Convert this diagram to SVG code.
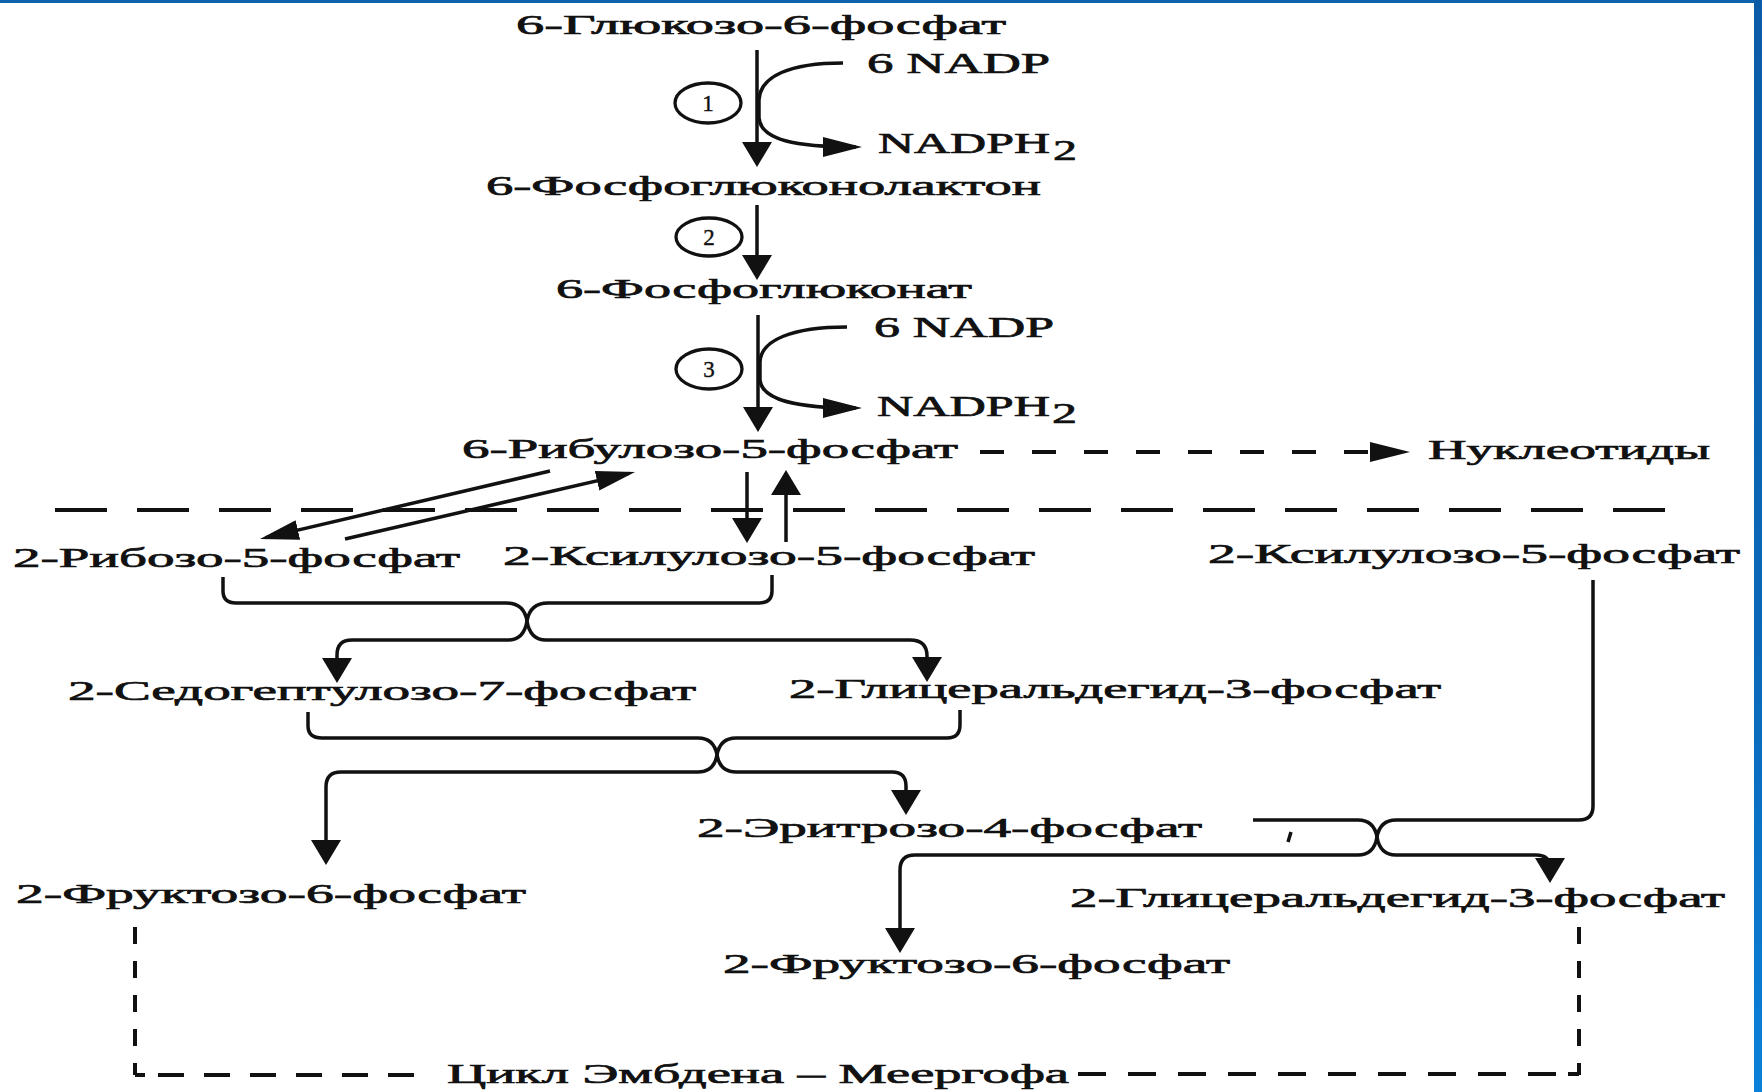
<svg xmlns="http://www.w3.org/2000/svg" width="1762" height="1092" viewBox="0 0 1762 1092">
<style>
.t{font-family:"Liberation Serif","Times New Roman",serif;font-size:28px;fill:#111;stroke:#111;stroke-width:0.7;}
.n{font-family:"Liberation Serif","Times New Roman",serif;font-size:30px;fill:#111;stroke:#111;stroke-width:0.7;}
.s{font-family:"Liberation Serif","Times New Roman",serif;font-size:23px;fill:#111;stroke:#111;stroke-width:0.4;}
.c{fill:none;stroke:#111;stroke-width:3.5;stroke-linecap:butt;stroke-linejoin:round;}
.d{fill:none;stroke:#111;stroke-width:4;}
.e{fill:none;stroke:#111;stroke-width:3.3;}
.h{fill:#111;stroke:none;}
</style>
<defs>
<linearGradient id="band" x1="0" y1="0" x2="0" y2="1">
<stop offset="0" stop-color="#0b5ca6"/>
<stop offset="0.6" stop-color="#0b68b8"/>
<stop offset="1" stop-color="#0a80d8"/>
</linearGradient>
<marker id="aV" markerUnits="userSpaceOnUse" markerWidth="25" markerHeight="30" viewBox="0 0 25 30" refX="19" refY="15" orient="auto">
<path d="M0,0 L25,15 L0,30 z" fill="#111" stroke="none"/>
</marker>
<marker id="aH" markerUnits="userSpaceOnUse" markerWidth="39" markerHeight="20" viewBox="0 0 39 20" refX="33" refY="10" orient="auto">
<path d="M0,0 L39,10 L0,20 z" fill="#111" stroke="none"/>
</marker>
</defs>
<rect x="0" y="0" width="1762" height="1092" fill="#ffffff"/>
<rect x="0" y="0" width="1762" height="3" fill="#0d62ad"/>
<rect x="1754" y="0" width="8" height="1092" fill="url(#band)"/>

<g id="connectors">
<path class="c" d="M757,50 V161" marker-end="url(#aV)"/>
<path class="c" d="M843,63 C790,63 760,76 759,100 L759,118 C761,140 795,147 856,147" marker-end="url(#aH)"/>
<path class="c" d="M757,205 V274" marker-end="url(#aV)"/>
<path class="c" d="M758,315 V426" marker-end="url(#aV)"/>
<path class="c" d="M847,327 C792,327 761,340 760,362 L760,380 C762,400 795,408 856,408" marker-end="url(#aH)"/>
<path class="d" d="M980,452 H1368" stroke-dasharray="24 28"/>
<polygon class="h" points="1370,442 1410,452 1370,462"/>
<path class="d" d="M55,510 H1665" stroke-dasharray="52 30"/>
<path class="c" d="M550,471 L265.8,537.6" marker-end="url(#aH)"/>
<path class="c" d="M345,539 L629.2,473.4" marker-end="url(#aH)"/>
<path class="c" d="M747,472 V537" marker-end="url(#aV)"/>
<path class="c" d="M786,542 V476" marker-end="url(#aV)"/>
<path class="c" d="M223,577 V591 Q223,603 236,603 H506 Q524,603 527,621 Q530,640 546,640 H910 Q927,640 927,656 V676" marker-end="url(#aV)"/>
<path class="c" d="M772,575 V591 Q772,603 759,603 H548 Q530,603 527,621 Q524,640 508,640 H352 Q337,640 337,655 V677" marker-end="url(#aV)"/>
<path class="c" d="M308,712 V726 Q308,738 322,738 H698 Q714,738 717,755 Q720,772 736,772 H892 Q906,772 906,786 V809" marker-end="url(#aV)"/>
<path class="c" d="M960,710 V725 Q960,738 947,738 H736 Q720,738 717,755 Q714,772 698,772 H341 Q326,772 326,787 V859" marker-end="url(#aV)"/>
<path class="c" d="M1593,580 V806 Q1593,820 1579,820 H1396 Q1380,820 1377,837 Q1374,855 1358,855 H915 Q900,855 900,870 V947" marker-end="url(#aV)"/>
<path class="c" d="M1253,820 H1358 Q1374,820 1377,837 Q1380,855 1396,855 H1536 Q1550,855 1550,868 V877" marker-end="url(#aV)"/>
<path class="c" d="M1291,832 L1288,842"/>
<path class="d" d="M135,927 V1075" stroke-dasharray="17 17"/>
<path class="d" d="M135,1075 H145"/>
<path class="d" d="M158,1075 H416" stroke-dasharray="26 20"/>
<path class="d" d="M1078,1074 H1560" stroke-dasharray="28 22"/>
<path class="d" d="M1579,927 V1075" stroke-dasharray="17 17"/>
<path class="d" d="M1568,1074 H1579"/>
</g>

<g id="n-g6p"><text class="t" x="516" y="34" textLength="490" lengthAdjust="spacingAndGlyphs">6-Глюкозо-6-фосфат</text></g>
<g id="n-nadp1"><text class="n" x="867" y="73" textLength="183" lengthAdjust="spacingAndGlyphs">6 NADP</text></g>
<g id="n-nadph1"><text class="n" x="878" y="153" textLength="172" lengthAdjust="spacingAndGlyphs">NADPH</text><text class="n" x="1053" y="160" textLength="24" lengthAdjust="spacingAndGlyphs">2</text></g>
<g id="r1"><ellipse class="e" cx="708" cy="103" rx="33" ry="20"/><text class="s" x="708" y="111" text-anchor="middle">1</text></g>
<g id="n-pgl"><text class="t" x="486" y="195" textLength="555" lengthAdjust="spacingAndGlyphs">6-Фосфоглюконолактон</text></g>
<g id="r2"><ellipse class="e" cx="709" cy="237" rx="33" ry="19"/><text class="s" x="709" y="245" text-anchor="middle">2</text></g>
<g id="n-pg"><text class="t" x="556" y="298" textLength="416" lengthAdjust="spacingAndGlyphs">6-Фосфоглюконат</text></g>
<g id="n-nadp2"><text class="n" x="874" y="337" textLength="180" lengthAdjust="spacingAndGlyphs">6 NADP</text></g>
<g id="n-nadph2"><text class="n" x="877" y="416" textLength="173" lengthAdjust="spacingAndGlyphs">NADPH</text><text class="n" x="1052" y="423" textLength="25" lengthAdjust="spacingAndGlyphs">2</text></g>
<g id="r3"><ellipse class="e" cx="709" cy="369" rx="33" ry="20"/><text class="s" x="709" y="377" text-anchor="middle">3</text></g>
<g id="n-ru5p"><text class="t" x="462" y="458" textLength="496" lengthAdjust="spacingAndGlyphs">6-Рибулозо-5-фосфат</text></g>
<g id="n-nuc"><text class="t" x="1428" y="459" textLength="282" lengthAdjust="spacingAndGlyphs">Нуклеотиды</text></g>
<g id="n-r5p"><text class="t" x="13" y="567" textLength="447" lengthAdjust="spacingAndGlyphs">2-Рибозо-5-фосфат</text></g>
<g id="n-xu5p-a"><text class="t" x="503" y="565" textLength="532" lengthAdjust="spacingAndGlyphs">2-Ксилулозо-5-фосфат</text></g>
<g id="n-xu5p-b"><text class="t" x="1208" y="563" textLength="532" lengthAdjust="spacingAndGlyphs">2-Ксилулозо-5-фосфат</text></g>
<g id="n-s7p"><text class="t" x="68" y="700" textLength="628" lengthAdjust="spacingAndGlyphs">2-Седогептулозо-7-фосфат</text></g>
<g id="n-g3p-a"><text class="t" x="789" y="698" textLength="652" lengthAdjust="spacingAndGlyphs">2-Глицеральдегид-3-фосфат</text></g>
<g id="n-e4p"><text class="t" x="697" y="837" textLength="505" lengthAdjust="spacingAndGlyphs">2-Эритрозо-4-фосфат</text></g>
<g id="n-f6p-a"><text class="t" x="16" y="903" textLength="510" lengthAdjust="spacingAndGlyphs">2-Фруктозо-6-фосфат</text></g>
<g id="n-g3p-b"><text class="t" x="1070" y="907" textLength="655" lengthAdjust="spacingAndGlyphs">2-Глицеральдегид-3-фосфат</text></g>
<g id="n-f6p-b"><text class="t" x="723" y="973" textLength="507" lengthAdjust="spacingAndGlyphs">2-Фруктозо-6-фосфат</text></g>
<g id="n-cycle"><text class="t" x="447" y="1083" textLength="622" lengthAdjust="spacingAndGlyphs">Цикл Эмбдена – Меергофа</text></g>
</svg>
